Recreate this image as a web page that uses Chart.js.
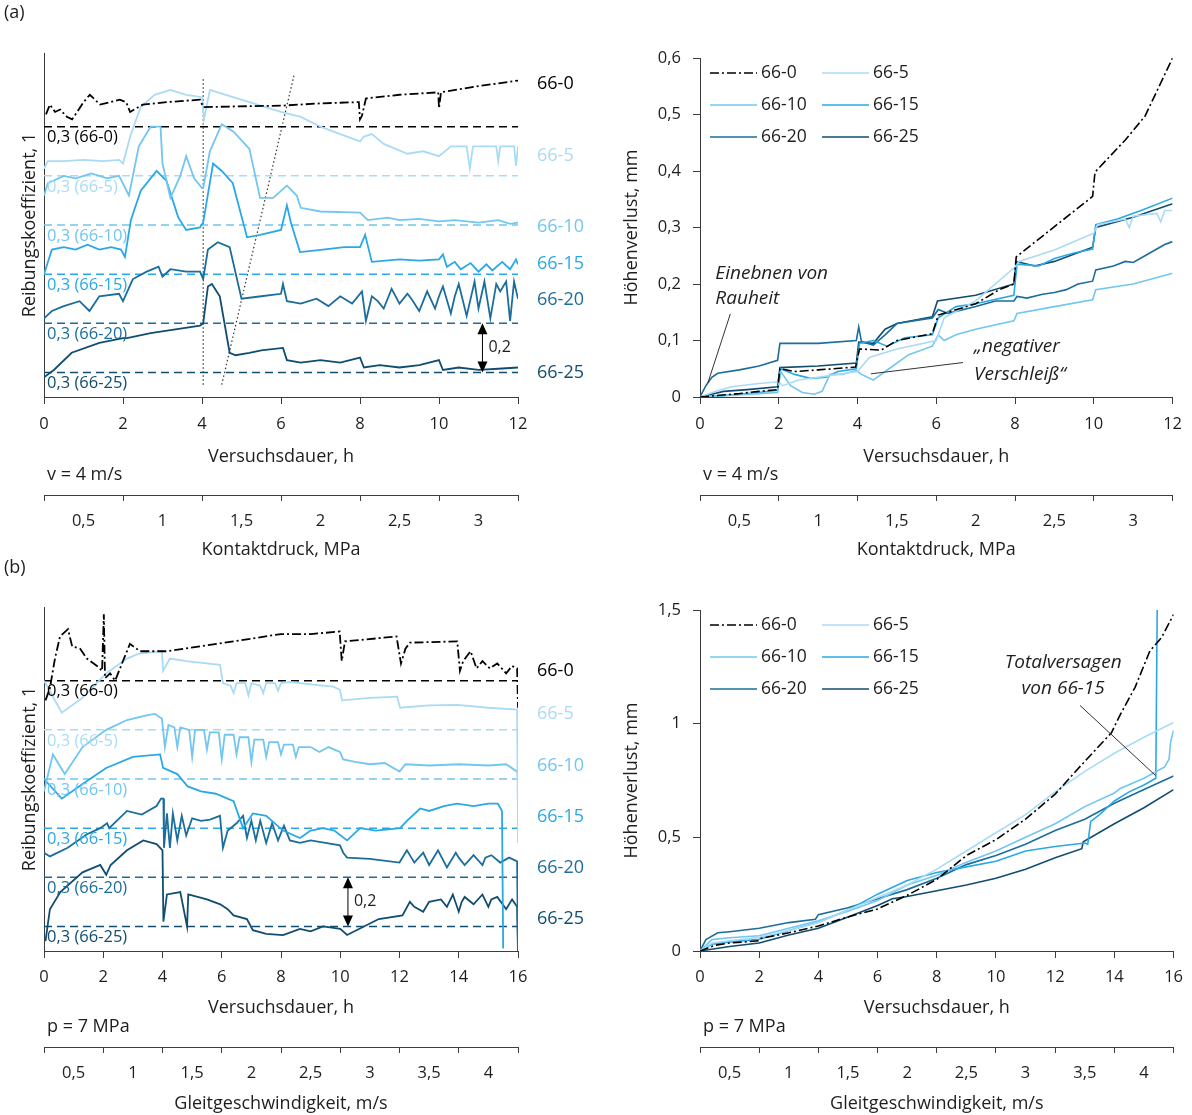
<!DOCTYPE html>
<html lang="de">
<head>
<meta charset="utf-8">
<title>Reibung und Höhenverlust</title>
<script src="https://cdn.jsdelivr.net/npm/chart.js@4.4.1/dist/chart.umd.min.js"></script>
<style>
  html, body { margin: 0; padding: 0; background: #fff; }
  #blatt { position: relative; width: 1192px; height: 1115px; overflow: hidden; }
  #blatt canvas { position: absolute; }
</style>
</head>
<body>
<div id="blatt">
  <canvas id="aLinks" width="600" height="565" style="left:0;top:0"></canvas>
  <canvas id="aRechts" width="592" height="565" style="left:600px;top:0"></canvas>
  <canvas id="bLinks" width="600" height="560" style="left:0;top:555px"></canvas>
  <canvas id="bRechts" width="592" height="560" style="left:600px;top:555px"></canvas>
</div>
<script>
// Serien und Achsbeschriftungen
const serien = ['66-0', '66-5', '66-10', '66-15', '66-20', '66-25'];
const kontaktdruck = ['0,5', '1', '1,5', '2', '2,5', '3'];
const gleitgeschw = ['0,5', '1', '1,5', '2', '2,5', '3', '3,5', '4'];

// (a) Reibungskoeffizient ueber Versuchsdauer [h, mu]
const reibA0 = [[0.05,0.35],[0.15,0.39],[0.28,0.36],[0.41,0.37],[0.58,0.34],[0.71,0.33],[0.84,0.36],[1.0,0.40],[1.16,0.43],[1.29,0.41],[1.42,0.39],[1.67,0.40],[1.92,0.41],[2.08,0.40],[2.18,0.36],[2.5,0.39],[3.1,0.40],[3.95,0.41],[4.03,0.38],[6.05,0.386],[7.0,0.395],[7.97,0.40],[8.0,0.33],[8.05,0.345],[8.15,0.415],[9.0,0.43],[9.98,0.44],[10.0,0.375],[10.05,0.44],[11.0,0.465],[12.0,0.488]];
const reibA5 = [[0,0.33],[0.1,0.36],[0.5,0.36],[1.0,0.365],[1.5,0.36],[1.9,0.365],[2.0,0.35],[2.2,0.47],[2.45,0.58],[2.8,0.63],[3.2,0.65],[3.6,0.63],[4.0,0.62],[4.05,0.53],[4.2,0.65],[4.6,0.63],[5.2,0.60],[6.0,0.56],[6.5,0.54],[7.0,0.50],[7.5,0.47],[8.0,0.44],[8.1,0.46],[8.3,0.47],[8.6,0.43],[9.2,0.39],[9.6,0.40],[10.0,0.38],[10.3,0.42],[10.7,0.42],[10.78,0.33],[10.86,0.42],[11.45,0.42],[11.5,0.36],[11.55,0.42],[11.9,0.42],[11.95,0.34],[12.0,0.42]];
const reibA10 = [[0,0.42],[0.1,0.47],[0.5,0.50],[0.8,0.49],[1.2,0.51],[1.6,0.49],[1.9,0.50],[2.15,0.42],[2.4,0.62],[2.7,0.70],[2.95,0.70],[3.0,0.55],[3.2,0.41],[3.45,0.50],[3.6,0.58],[3.8,0.49],[4.0,0.45],[4.03,0.45],[4.2,0.60],[4.5,0.71],[4.8,0.68],[5.2,0.61],[5.47,0.41],[5.8,0.41],[6.15,0.46],[6.4,0.42],[6.5,0.37],[7.0,0.355],[8.0,0.35],[8.2,0.32],[8.7,0.33],[9.0,0.32],[9.5,0.325],[10.0,0.315],[10.4,0.32],[11.0,0.31],[11.5,0.32],[11.8,0.305],[12.0,0.31]];
const reibA15 = [[0,0.30],[0.2,0.40],[0.5,0.41],[0.8,0.40],[1.1,0.42],[1.4,0.40],[1.7,0.41],[1.95,0.40],[2.05,0.37],[2.2,0.52],[2.45,0.64],[2.85,0.72],[3.1,0.68],[3.4,0.53],[3.6,0.48],[3.95,0.49],[4.03,0.51],[4.28,0.75],[4.5,0.72],[4.78,0.67],[5.14,0.45],[5.47,0.46],[6.0,0.48],[6.15,0.58],[6.25,0.51],[6.48,0.39],[7.06,0.40],[7.6,0.41],[8.0,0.41],[8.13,0.46],[8.3,0.35],[9.0,0.36],[9.5,0.355],[10.0,0.36],[10.1,0.38],[10.2,0.33],[10.4,0.35],[10.55,0.32],[10.8,0.345],[11.0,0.31],[11.2,0.34],[11.35,0.315],[11.6,0.35],[11.8,0.32],[11.95,0.36],[12.0,0.34]];
const reibA20 = [[0,0.32],[0.2,0.35],[0.5,0.37],[0.9,0.39],[1.15,0.35],[1.4,0.41],[1.9,0.42],[2.0,0.39],[2.25,0.48],[2.6,0.51],[2.9,0.53],[3.0,0.49],[3.2,0.52],[3.6,0.51],[3.95,0.51],[4.03,0.48],[4.15,0.60],[4.4,0.63],[4.7,0.61],[5.0,0.40],[5.5,0.41],[6.0,0.42],[6.05,0.46],[6.15,0.39],[6.5,0.38],[6.9,0.40],[7.2,0.37],[7.5,0.41],[7.8,0.38],[8.05,0.43],[8.15,0.31],[8.3,0.41],[8.45,0.39],[8.6,0.36],[8.8,0.44],[9.0,0.38],[9.2,0.42],[9.3,0.40],[9.5,0.35],[9.7,0.43],[9.9,0.36],[10.0,0.41],[10.1,0.45],[10.3,0.34],[10.4,0.41],[10.5,0.46],[10.7,0.33],[10.9,0.47],[11.0,0.36],[11.15,0.47],[11.3,0.32],[11.45,0.46],[11.55,0.43],[11.7,0.47],[11.8,0.31],[11.9,0.47],[12.0,0.40]];
const reibA25 = [[0,0.28],[0.25,0.31],[0.7,0.38],[1.4,0.42],[2.0,0.44],[2.1,0.44],[2.7,0.46],[3.95,0.49],[4.03,0.50],[4.15,0.65],[4.25,0.66],[4.45,0.61],[4.7,0.38],[4.85,0.37],[5.2,0.38],[5.5,0.39],[6.05,0.40],[6.15,0.35],[6.5,0.34],[7.0,0.35],[7.5,0.34],[8.0,0.36],[8.1,0.32],[8.5,0.33],[9.0,0.32],[9.5,0.33],[10.0,0.35],[10.1,0.31],[10.5,0.32],[11.0,0.31],[11.5,0.315],[12.0,0.32]];

// (a) Hoehenverlust [h, mm]
const verlustA0 = [[0,0],[0.5,0.003],[1.0,0.006],[1.5,0.01],[1.97,0.013],[2.03,0.05],[2.4,0.045],[3.0,0.048],[3.95,0.053],[4.05,0.085],[4.6,0.083],[5.0,0.1],[5.9,0.112],[6.05,0.145],[7.0,0.165],[7.6,0.19],[7.97,0.2],[8.03,0.248],[8.9,0.296],[9.97,0.355],[10.03,0.398],[10.8,0.455],[11.3,0.497],[12.0,0.6]];
const verlustA5 = [[0,0],[0.4,0.01],[0.8,0.018],[1.5,0.024],[2.0,0.027],[2.1,0.02],[2.5,0.03],[3.0,0.035],[3.5,0.04],[4.0,0.045],[4.3,0.07],[5.0,0.085],[6.0,0.1],[6.2,0.14],[7.0,0.17],[8.0,0.23],[8.1,0.24],[9.0,0.26],[10.0,0.29],[10.1,0.305],[10.8,0.315],[10.9,0.3],[11.0,0.32],[11.6,0.325],[11.7,0.31],[11.8,0.33],[12.0,0.33]];
const verlustA10 = [[0,0],[0.5,0.002],[1.0,0.004],[1.5,0.006],[1.97,0.008],[2.05,0.045],[2.3,0.02],[2.6,0.008],[2.9,0.005],[3.1,0.01],[3.3,0.04],[3.6,0.04],[3.97,0.047],[4.1,0.04],[4.4,0.03],[4.8,0.05],[5.3,0.075],[5.9,0.09],[6.05,0.11],[6.2,0.1],[6.5,0.11],[7.0,0.12],[7.97,0.135],[8.05,0.148],[9.0,0.16],[9.97,0.172],[10.05,0.19],[11.0,0.2],[12.0,0.219]];
const verlustA15 = [[0,0],[0.5,0.002],[1.0,0.005],[1.5,0.008],[1.97,0.012],[2.05,0.05],[2.4,0.04],[2.8,0.033],[3.2,0.035],[3.5,0.045],[3.97,0.05],[4.05,0.095],[4.4,0.1],[4.75,0.09],[5.2,0.105],[5.9,0.11],[6.05,0.14],[6.5,0.16],[7.0,0.165],[7.97,0.18],[8.05,0.235],[8.6,0.232],[9.0,0.245],[9.5,0.255],[9.97,0.262],[10.05,0.305],[10.6,0.315],[11.2,0.33],[12.0,0.352]];
const verlustA20 = [[0,0],[0.15,0.02],[0.3,0.035],[0.45,0.042],[1.0,0.048],[1.5,0.055],[1.97,0.065],[2.03,0.095],[3.0,0.095],[3.97,0.1],[4.03,0.124],[4.1,0.098],[4.4,0.092],[4.7,0.11],[5.0,0.13],[5.9,0.14],[6.05,0.155],[6.3,0.148],[7.0,0.16],[7.5,0.17],[7.97,0.17],[8.05,0.178],[8.3,0.175],[8.7,0.182],[9.0,0.185],[9.3,0.19],[9.6,0.2],[9.97,0.205],[10.05,0.225],[10.5,0.232],[10.8,0.24],[11.0,0.238],[11.3,0.25],[11.6,0.262],[11.8,0.27],[12.0,0.275]];
const verlustA25 = [[0,0],[0.3,0.005],[0.6,0.01],[1.2,0.013],[1.97,0.018],[2.03,0.052],[3.0,0.055],[3.97,0.06],[4.03,0.097],[4.4,0.095],[4.7,0.12],[5.0,0.13],[5.9,0.142],[6.03,0.17],[7.0,0.18],[7.97,0.2],[8.03,0.24],[8.5,0.232],[9.0,0.24],[9.97,0.265],[10.05,0.3],[11.0,0.318],[12.0,0.342]];

// (b) Reibungskoeffizient ueber Versuchsdauer [h, mu]
const reibB0 = [[0.05,0.22],[0.2,0.27],[0.37,0.39],[0.54,0.48],[0.81,0.51],[0.95,0.44],[1.22,0.43],[1.45,0.39],[1.79,0.36],[1.96,0.34],[2.02,0.57],[2.06,0.31],[2.23,0.33],[2.4,0.30],[2.9,0.45],[3.24,0.42],[4.15,0.42],[6.4,0.46],[8.0,0.49],[9.0,0.49],[9.98,0.50],[10.05,0.38],[10.16,0.46],[11.9,0.48],[12.05,0.37],[12.2,0.43],[12.35,0.455],[13.95,0.46],[14.04,0.34],[14.15,0.38],[14.4,0.42],[14.6,0.35],[14.8,0.38],[15.05,0.35],[15.3,0.37],[15.6,0.33],[15.8,0.36],[15.97,0.35],[16.0,0.19]];
const reibB5 = [[0,0.50],[0.6,0.37],[1.3,0.43],[2.1,0.53],[2.8,0.59],[3.2,0.61],[3.98,0.62],[4.02,0.54],[4.25,0.59],[4.8,0.58],[5.94,0.565],[6.04,0.49],[6.3,0.48],[6.4,0.45],[6.5,0.49],[6.8,0.49],[6.9,0.44],[7.0,0.49],[7.3,0.48],[7.4,0.45],[7.5,0.49],[7.8,0.49],[7.9,0.46],[8.0,0.49],[8.3,0.495],[9.0,0.485],[9.76,0.476],[9.99,0.463],[10.06,0.42],[11.0,0.43],[11.92,0.435],[12.02,0.39],[13.0,0.40],[13.94,0.402],[15.0,0.39],[15.97,0.382],[16.0,-0.16]];
const reibB10 = [[0,0.25],[0.3,0.40],[0.7,0.32],[1.3,0.43],[2.1,0.50],[2.8,0.54],[3.5,0.56],[3.75,0.565],[3.98,0.545],[4.08,0.43],[4.2,0.52],[4.4,0.51],[4.5,0.43],[4.6,0.51],[4.9,0.50],[5.0,0.39],[5.1,0.50],[5.4,0.50],[5.5,0.42],[5.6,0.49],[5.9,0.49],[6.0,0.38],[6.1,0.48],[6.4,0.48],[6.5,0.40],[6.6,0.47],[6.9,0.47],[7.0,0.37],[7.1,0.46],[7.4,0.46],[7.5,0.39],[7.6,0.45],[7.9,0.45],[8.0,0.40],[8.1,0.44],[8.4,0.44],[8.5,0.39],[8.6,0.43],[9.0,0.43],[9.3,0.41],[9.6,0.43],[9.99,0.41],[10.1,0.38],[10.5,0.37],[11.0,0.36],[11.5,0.365],[12.0,0.33],[12.2,0.36],[13.0,0.355],[14.0,0.36],[15.0,0.355],[15.6,0.36],[15.97,0.33],[16.0,0.30]];
const reibB15 = [[0,0.50],[0.6,0.42],[1.3,0.48],[2.1,0.545],[3.0,0.59],[3.92,0.60],[4.02,0.545],[4.5,0.52],[4.85,0.47],[5.3,0.45],[5.8,0.44],[6.4,0.41],[6.72,0.30],[7.05,0.36],[7.5,0.35],[8.07,0.29],[8.64,0.26],[9.0,0.29],[9.42,0.30],[9.8,0.29],[10.23,0.25],[10.67,0.30],[11.2,0.29],[12.02,0.30],[12.25,0.33],[12.7,0.38],[13.0,0.37],[13.5,0.39],[13.94,0.40],[14.5,0.39],[15.0,0.40],[15.32,0.40],[15.46,0.37],[15.5,-0.19]];
const reibB20 = [[0,0.40],[0.2,0.385],[0.8,0.42],[1.45,0.475],[1.9,0.50],[2.13,0.52],[2.2,0.50],[2.8,0.57],[3.3,0.555],[3.8,0.59],[3.95,0.62],[4.03,0.62],[4.05,0.42],[4.15,0.56],[4.25,0.42],[4.35,0.56],[4.5,0.45],[4.65,0.55],[4.8,0.47],[5.0,0.54],[5.3,0.53],[5.6,0.535],[5.94,0.55],[6.04,0.42],[6.2,0.49],[6.5,0.52],[6.72,0.55],[6.85,0.46],[7.0,0.53],[7.15,0.45],[7.3,0.53],[7.5,0.44],[7.7,0.52],[7.9,0.45],[8.1,0.51],[8.3,0.45],[8.64,0.44],[9.0,0.45],[9.5,0.44],[9.99,0.43],[10.1,0.40],[10.23,0.38],[11.0,0.375],[12.0,0.36],[12.25,0.41],[12.4,0.38],[12.5,0.36],[12.8,0.40],[13.0,0.35],[13.2,0.39],[13.3,0.41],[13.6,0.34],[13.9,0.40],[14.0,0.38],[14.2,0.35],[14.5,0.39],[14.8,0.35],[14.9,0.38],[15.1,0.39],[15.4,0.36],[15.7,0.38],[15.97,0.365],[16.0,0.0]];
const reibB25 = [[0.05,0.24],[0.2,0.37],[0.55,0.44],[1.3,0.52],[1.9,0.55],[2.1,0.51],[2.25,0.55],[2.8,0.61],[3.35,0.65],[3.8,0.635],[4.0,0.61],[4.03,0.32],[4.15,0.43],[4.6,0.44],[4.83,0.30],[4.87,0.43],[5.5,0.41],[5.95,0.39],[6.2,0.37],[6.4,0.345],[6.85,0.33],[7.05,0.285],[7.5,0.27],[8.07,0.265],[8.64,0.29],[9.0,0.28],[9.42,0.30],[10.0,0.29],[10.23,0.265],[10.8,0.30],[11.3,0.33],[12.1,0.345],[12.35,0.40],[12.5,0.38],[12.8,0.36],[13.0,0.40],[13.4,0.41],[13.6,0.38],[13.8,0.43],[14.0,0.36],[14.1,0.40],[14.2,0.42],[14.5,0.39],[14.8,0.43],[15.0,0.38],[15.1,0.41],[15.3,0.42],[15.6,0.37],[15.8,0.41],[15.97,0.38],[16.0,0.19]];

// (b) Hoehenverlust [h, mm]
const verlustB0 = [[0,0],[0.5,0.025],[1.0,0.035],[1.97,0.045],[2.03,0.055],[3.0,0.08],[4.0,0.11],[5.0,0.15],[6.0,0.185],[7.0,0.245],[8.0,0.315],[9.0,0.42],[10.0,0.49],[11.0,0.58],[12.0,0.69],[12.9,0.82],[13.9,0.96],[14.2,1.04],[14.7,1.16],[15.2,1.32],[15.6,1.38],[16.0,1.48]];
const verlustB5 = [[0,0],[0.4,0.035],[1.0,0.045],[2.0,0.06],[3.0,0.09],[4.0,0.125],[5.0,0.18],[6.0,0.235],[7.0,0.29],[8.0,0.36],[9.0,0.44],[10.0,0.52],[11.0,0.6],[12.0,0.7],[13.0,0.79],[14.0,0.87],[15.0,0.94],[16.0,1.005]];
const verlustB10 = [[0,0],[0.4,0.05],[1.0,0.058],[2.0,0.067],[3.0,0.1],[4.0,0.133],[5.0,0.175],[6.0,0.222],[7.0,0.29],[8.0,0.333],[9.0,0.39],[10.0,0.44],[11.0,0.5],[12.0,0.56],[13.0,0.635],[14.0,0.695],[14.2,0.715],[15.0,0.76],[15.7,0.81],[15.85,0.845],[15.9,0.92],[16.0,0.97]];
const verlustB15 = [[0,0],[0.4,0.03],[1.0,0.04],[2.0,0.052],[3.0,0.09],[4.0,0.126],[5.0,0.18],[6.0,0.25],[7.0,0.31],[8.0,0.345],[9.0,0.37],[10.0,0.395],[11.0,0.44],[12.0,0.46],[13.0,0.475],[13.1,0.47],[13.2,0.57],[13.5,0.6],[14.0,0.66],[14.5,0.7],[15.0,0.73],[15.4,0.76],[15.45,1.55]];
const verlustB20 = [[0,0],[0.2,0.05],[0.6,0.08],[1.0,0.085],[2.0,0.1],[3.0,0.125],[3.9,0.14],[4.0,0.16],[5.0,0.19],[6.0,0.23],[7.0,0.27],[8.0,0.32],[9.0,0.38],[10.0,0.42],[11.0,0.47],[12.0,0.53],[13.0,0.58],[14.0,0.65],[15.0,0.71],[16.0,0.77]];
const verlustB25 = [[0,0],[0.5,0.01],[1.0,0.02],[2.0,0.035],[3.0,0.07],[4.0,0.1],[5.0,0.15],[6.0,0.2],[6.5,0.23],[7.0,0.24],[8.0,0.265],[9.0,0.29],[10.0,0.32],[11.0,0.36],[12.0,0.41],[12.9,0.45],[12.95,0.48],[14.0,0.56],[15.0,0.63],[16.0,0.71]];

// Hilfslinien in (a) links [h, Anzeigewert]
const hilfslinieSenkrecht = [[4.03, 0.05], [4.03, 1.3]];
const hilfslinieSchraeg = [[4.5, 0.05], [6.33, 1.31]];

// Versatz der Kurven: Lage der 0,3-Linie je Serie
const bezugMu = 0.3;
const versatz = [1.1, 0.9, 0.7, 0.5, 0.3, 0.1];
const namenLageA = [1.274, 0.981, 0.692, 0.541, 0.395, 0.098];
const namenLageB = [1.14, 0.965, 0.753, 0.545, 0.338, 0.13];

// Stil
const achsFarbe = '#3c3c3c';
const textFarbe = '#1e1e1e';
const familie = "'Open Sans', sans-serif";
const schrift = { family: familie, size: 16.5 };
const titelSchrift = { family: familie, size: 18 };
const farben = ['#000000', '#aadbf5', '#72c6f0', '#2aa8e6', '#1b6d9b', '#104d71'];
const striche = [[9, 3, 2, 3], [], [], [], [], []];

function punkte(arr) {
    return arr.map(p => ({ x: p[0], y: p[1] }));
}

function verschoben(arr, k) {
    return arr.map(p => ({ x: p[0], y: p[1] - bezugMu + versatz[k] }));
}

function zahl(v) {
    return String(Math.round(v * 100) / 100).replace('.', ',');
}

function achseX(tMax, h, pad, titelPad) {
    return {
        type: 'linear', position: 'bottom', weight: 0, min: 0, max: tMax,
        ticks: { stepSize: 2, padding: pad, color: textFarbe, font: schrift, maxRotation: 0, callback: v => String(v) },
        grid: { drawOnChartArea: false, tickLength: 7, color: achsFarbe },
        border: { display: true, color: achsFarbe },
        title: { display: true, text: 'Versuchsdauer, h', color: textFarbe, font: titelSchrift, padding: { top: 0, bottom: titelPad } },
        afterFit: s => { s.height = h; }
    };
}

function zweitachse(tMax, beschriftung, titel, h, titelPad) {
    return {
        type: 'linear', position: 'bottom', weight: 1, min: 0, max: tMax,
        afterBuildTicks: s => {
            const t = [];
            for (let i = 0; i <= tMax; i++) t.push({ value: i });
            s.ticks = t;
        },
        ticks: {
            autoSkip: false, maxRotation: 0, padding: 10, color: textFarbe, font: schrift,
            callback: v => (v % 2 === 1 ? beschriftung[(v - 1) / 2] : '')
        },
        grid: {
            drawOnChartArea: false, tickLength: 6,
            color: c => (c.tick && c.tick.value % 2 === 0 ? achsFarbe : 'rgba(0,0,0,0)')
        },
        border: { display: true, color: achsFarbe },
        title: { display: true, text: titel, color: textFarbe, font: titelSchrift, padding: { top: 0, bottom: titelPad } },
        afterFit: s => { s.height = h; }
    };
}

function pfeil(ctx, x, y1, y2) {
    ctx.strokeStyle = '#000';
    ctx.fillStyle = '#000';
    ctx.lineWidth = 1;
    ctx.beginPath(); ctx.moveTo(x, y1 + 8); ctx.lineTo(x, y2 - 8); ctx.stroke();
    ctx.beginPath(); ctx.moveTo(x, y1); ctx.lineTo(x - 5, y1 + 11); ctx.lineTo(x + 5, y1 + 11); ctx.closePath(); ctx.fill();
    ctx.beginPath(); ctx.moveTo(x, y2); ctx.lineTo(x - 5, y2 - 11); ctx.lineTo(x + 5, y2 - 11); ctx.closePath(); ctx.fill();
}

// Beschriftungen im Reibungsdiagramm
const reibText = {
    id: 'reibText',
    afterDraw(chart, args, o) {
        const ctx = chart.ctx, ys = chart.scales.y, xs = chart.scales.x, ca = chart.chartArea;
        ctx.save();
        ctx.textBaseline = 'middle';
        ctx.textAlign = 'left';
        ctx.font = '16.5px ' + familie;
        serien.forEach((s, k) => {
            ctx.fillStyle = farben[k];
            ctx.fillText('0,3 (' + s + ')', ca.left + 3, ys.getPixelForValue(versatz[k]) + 11);
        });
        ctx.font = '18px ' + familie;
        serien.forEach((s, k) => {
            ctx.fillStyle = farben[k];
            ctx.fillText(s, ca.right + 19, ys.getPixelForValue(o.namenLage[k]));
        });
        const px = xs.getPixelForValue(o.pfeilT);
        const y1 = ys.getPixelForValue(versatz[4]), y2 = ys.getPixelForValue(versatz[5]);
        pfeil(ctx, px, y1, y2);
        ctx.fillStyle = textFarbe;
        ctx.font = '16px ' + familie;
        ctx.fillText('0,2', px + 6, (y1 + y2) / 2);
        ctx.font = '18px ' + familie;
        ctx.fillText(o.bedingung, ca.left + 3, xs.bottom - 20);
        ctx.fillText(o.teil, 4, 13);
        ctx.restore();
    }
};

// Legende und Hinweise im Verschleissdiagramm
const verlustText = {
    id: 'verlustText',
    afterDraw(chart, args, o) {
        const ctx = chart.ctx, ys = chart.scales.y, xs = chart.scales.x, ca = chart.chartArea;
        ctx.save();
        ctx.textBaseline = 'middle';
        ctx.textAlign = 'left';
        ctx.font = '17.5px ' + familie;
        serien.forEach((s, k) => {
            const x0 = ca.left + (k % 2 ? 122 : 10);
            const y = ca.top + 15 + Math.floor(k / 2) * 32;
            ctx.strokeStyle = farben[k];
            ctx.lineWidth = 1.6;
            ctx.setLineDash(striche[k]);
            ctx.beginPath(); ctx.moveTo(x0, y); ctx.lineTo(x0 + 47, y); ctx.stroke();
            ctx.setLineDash([]);
            ctx.fillStyle = textFarbe;
            ctx.fillText(s, x0 + 51, y);
        });
        ctx.font = '18px ' + familie;
        ctx.fillText(o.bedingung, ca.left + 3, xs.bottom - 20);
        ctx.strokeStyle = '#333';
        ctx.lineWidth = 1;
        o.linien.forEach(l => {
            ctx.beginPath();
            ctx.moveTo(xs.getPixelForValue(l[0][0]), ys.getPixelForValue(l[0][1]));
            ctx.lineTo(xs.getPixelForValue(l[1][0]), ys.getPixelForValue(l[1][1]));
            ctx.stroke();
        });
        ctx.font = 'italic 19px ' + familie;
        ctx.fillStyle = textFarbe;
        o.texte.forEach(t => {
            ctx.textAlign = t[3];
            ctx.fillText(t[2], xs.getPixelForValue(t[0]), ys.getPixelForValue(t[1]));
        });
        ctx.restore();
    }
};

function reibDiagramm(id, reihen, tMax, hilfen, o, lay) {
    const ds = [];
    reihen.forEach((r, k) => {
        ds.push({ label: serien[k], data: verschoben(r, k), borderColor: farben[k], borderWidth: 1.8, borderDash: striche[k], pointRadius: 0, tension: 0 });
    });
    reihen.forEach((r, k) => {
        ds.push({ label: '0,3 ' + serien[k], data: [{ x: 0, y: versatz[k] }, { x: tMax, y: versatz[k] }], borderColor: farben[k], borderWidth: 1.5, borderDash: [8, 5], pointRadius: 0 });
    });
    hilfen.forEach(h => {
        ds.push({ label: 'Hilfslinie', data: punkte(h), borderColor: '#333', borderWidth: 1.2, borderDash: [1.5, 2.5], pointRadius: 0 });
    });
    return new Chart(document.getElementById(id), {
        type: 'line',
        data: { datasets: ds },
        options: {
            responsive: false, animation: false, devicePixelRatio: 1, events: [],
            layout: { padding: { top: lay.top, right: 82, left: 0, bottom: 0 } },
            plugins: { legend: { display: false }, tooltip: { enabled: false }, reibText: o },
            scales: {
                x: achseX(tMax, lay.hx, lay.px, lay.tx),
                x2: zweitachse(tMax, lay.beschr, lay.titel2, lay.hx2, lay.tx2),
                y: {
                    min: 0, max: 1.4,
                    ticks: { display: false },
                    grid: { display: false },
                    border: { display: true, color: achsFarbe },
                    title: { display: true, text: 'Reibungskoeffizient, 1', color: textFarbe, font: titelSchrift, padding: { top: 19, bottom: 0 } },
                    afterFit: s => { s.width = 44; }
                }
            }
        },
        plugins: [reibText]
    });
}

function verlustDiagramm(id, reihen, tMax, yMax, yStep, o, lay) {
    const ds = reihen.map((r, k) => ({
        label: serien[k], data: punkte(r), borderColor: farben[k], borderWidth: 1.6, borderDash: striche[k], pointRadius: 0, tension: 0
    }));
    return new Chart(document.getElementById(id), {
        type: 'line',
        data: { datasets: ds },
        options: {
            responsive: false, animation: false, devicePixelRatio: 1, events: [],
            layout: { padding: { top: lay.top, right: 16, left: 0, bottom: 0 } },
            plugins: { legend: { display: false }, tooltip: { enabled: false }, verlustText: o },
            scales: {
                x: achseX(tMax, lay.hx, lay.px, lay.tx),
                x2: zweitachse(tMax, lay.beschr, lay.titel2, lay.hx2, lay.tx2),
                y: {
                    min: 0, max: yMax,
                    ticks: { stepSize: yStep, padding: 12, color: textFarbe, font: schrift, callback: v => zahl(v) },
                    grid: { drawOnChartArea: false, tickLength: 7, color: achsFarbe },
                    border: { display: true, color: achsFarbe },
                    title: { display: true, text: 'Höhenverlust, mm', color: textFarbe, font: titelSchrift, padding: { top: 21, bottom: 0 } },
                    afterFit: s => { s.width = 100; }
                }
            }
        },
        plugins: [verlustText]
    });
}

const layoutA = { hx: 98, px: 10, tx: 27, hx2: 70, tx2: 4, beschr: kontaktdruck, titel2: 'Kontaktdruck, MPa' };
const layoutB = { hx: 96, px: 9, tx: 28, hx2: 68, tx2: 0, beschr: gleitgeschw, titel2: 'Gleitgeschwindigkeit, m/s' };

reibDiagramm('aLinks', [reibA0, reibA5, reibA10, reibA15, reibA20, reibA25], 12,
    [hilfslinieSenkrecht, hilfslinieSchraeg],
    { namenLage: namenLageA, pfeilT: 11.1, bedingung: 'v = 4 m/s', teil: '(a)' },
    Object.assign({ top: 53 }, layoutA));

verlustDiagramm('aRechts', [verlustA0, verlustA5, verlustA10, verlustA15, verlustA20, verlustA25], 12, 0.6, 0.1,
    {
        bedingung: 'v = 4 m/s',
        linien: [[[0.77, 0.147], [0.2, 0.025]], [[6.68, 0.061], [4.34, 0.041]]],
        texte: [[0.39, 0.218, 'Einebnen von', 'left'], [0.39, 0.174, 'Rauheit', 'left'],
                [6.96, 0.089, '„negativer', 'left'], [6.96, 0.039, 'Verschleiß“', 'left']]
    },
    Object.assign({ top: 58 }, layoutA));

reibDiagramm('bLinks', [reibB0, reibB5, reibB10, reibB15, reibB20, reibB25], 16, [],
    { namenLage: namenLageB, pfeilT: 10.26, bedingung: 'p = 7 MPa', teil: '(b)' },
    Object.assign({ top: 52 }, layoutB));

verlustDiagramm('bRechts', [verlustB0, verlustB5, verlustB10, verlustB15, verlustB20, verlustB25], 16, 1.5, 0.5,
    {
        bedingung: 'p = 7 MPa',
        linien: [[[12.84, 1.08], [15.39, 0.772]]],
        texte: [[12.27, 1.27, 'Totalversagen', 'center'], [12.27, 1.156, 'von 66-15', 'center']]
    },
    Object.assign({ top: 55 }, layoutB));
</script>
</body>
</html>
